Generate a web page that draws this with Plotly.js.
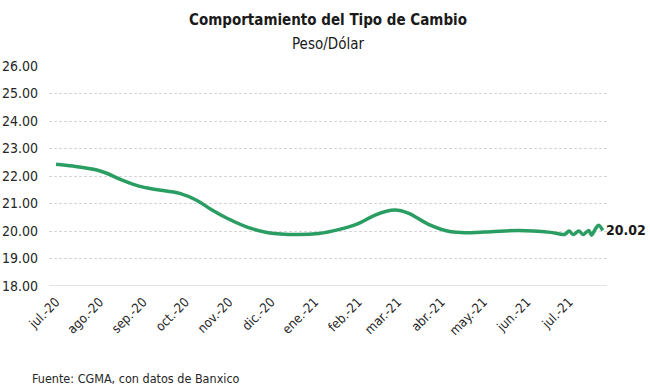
<!DOCTYPE html>
<html>
<head>
<meta charset="utf-8">
<script src="https://cdn.plot.ly/plotly-3.0.1.min.js"></script>
<style>html,body{margin:0;padding:0;background:#fff;}#chart{width:650px;height:391px;}</style>
</head>
<body>
<div id="chart"></div>
<script>
const fechas = ["2020-07-01","2020-07-13","2020-07-30","2020-08-06","2020-08-17","2020-08-29","2020-09-10","2020-09-27","2020-10-09","2020-10-20","2020-10-30","2020-11-15","2020-11-29","2020-12-19","2021-01-04","2021-01-18","2021-02-01","2021-02-13","2021-02-27","2021-03-09","2021-03-23","2021-04-08","2021-05-02","2021-05-26","2021-06-18","2021-06-28","2021-07-01","2021-07-04","2021-07-08","2021-07-11","2021-07-15","2021-07-17","2021-07-20","2021-07-22","2021-07-25"];
const tipoCambio = [22.43,22.36,22.22,22.10,21.85,21.63,21.51,21.37,21.12,20.76,20.48,20.12,19.94,19.87,19.91,20.05,20.27,20.58,20.76,20.64,20.24,19.97,19.96,20.02,19.95,19.88,20.00,19.87,20.00,19.87,20.02,19.85,20.10,20.21,20.02];
const tickFechas = ["2020-07-01","2020-08-01","2020-09-01","2020-10-01","2020-11-01","2020-12-01","2021-01-01","2021-02-01","2021-03-01","2021-04-01","2021-05-01","2021-06-01","2021-07-01"];
const tickEtiquetas = ["jul.-20","ago.-20","sep.-20","oct.-20","nov.-20","dic.-20","ene.-21","feb.-21","mar.-21","abr.-21","may.-21","jun.-21","jul.-21"];
const yTicks = [18,19,20,21,22,23,24,25,26];
const ultimoValor = "20.02";
const titulo = "Comportamiento del Tipo de Cambio";
const subtitulo = "Peso/Dólar";
const fuente = "Fuente: CGMA, con datos de Banxico";

const FONT = '"DejaVu Sans Condensed","Roboto",sans-serif';
const trace = {
  x: fechas, y: tipoCambio, type: 'scatter', mode: 'lines',
  line: {color: '#2a9d62', width: 3.5, shape: 'spline', smoothing: 1},
  hoverinfo: 'skip'
};
const layout = {
  width: 650, height: 391,
  margin: {l: 49, r: 43, t: 66, b: 105},
  paper_bgcolor: '#fff', plot_bgcolor: '#fff',
  showlegend: false,
  font: {family: FONT, color: '#262626', size: 14},
  xaxis: {
    type: 'date',
    range: ['2020-06-26', '2021-07-28'],
    tickvals: tickFechas, ticktext: tickEtiquetas,
    tickangle: -45, showgrid: false, zeroline: false,
    showline: false, ticks: '', ticklabelstandoff: 5,
    tickfont: {family: FONT, size: 13, color: '#262626'}
  },
  yaxis: {
    range: [18, 26], tickvals: yTicks, tickformat: '.2f',
    showgrid: true, gridcolor: '#d6d6d6', griddash: '3px,2px', gridwidth: 1,
    zeroline: false, showline: false, ticks: '', ticklabelstandoff: 10,
    tickfont: {family: FONT, size: 14, color: '#262626'}
  },
  shapes: [{type: 'line', xref: 'paper', yref: 'y', x0: 0, x1: 1, y0: 18, y1: 18,
            line: {color: '#d9d9d9', width: 1.5}}],
  annotations: [
    {text: '<b>' + titulo + '</b>', xref: 'paper', yref: 'paper', x: 0.5, y: 1, yshift: 46, xanchor: 'center', yanchor: 'middle',
     showarrow: false, font: {family: FONT, size: 15, color: '#1a1a1a'}},
    {text: subtitulo, xref: 'paper', yref: 'paper', x: 0.5, y: 1, yshift: 22, xanchor: 'center', yanchor: 'middle',
     showarrow: false, font: {family: FONT, size: 15, color: '#1a1a1a'}},
    {text: '<b>' + ultimoValor + '</b>', xref: 'x', yref: 'y', x: fechas[fechas.length-1], y: tipoCambio[tipoCambio.length-1],
     xanchor: 'left', yanchor: 'middle', xshift: 1, showarrow: false, font: {family: FONT, size: 14, color: '#1a1a1a'}},
    {text: fuente, xref: 'paper', yref: 'paper', x: 0, xshift: -19, y: 0, yshift: -92, xanchor: 'left', yanchor: 'middle',
     showarrow: false, font: {family: FONT, size: 12.5, color: '#262626'}}
  ]
};
Plotly.newPlot('chart', [trace], layout, {displayModeBar: false, staticPlot: true});
</script>
</body>
</html>
